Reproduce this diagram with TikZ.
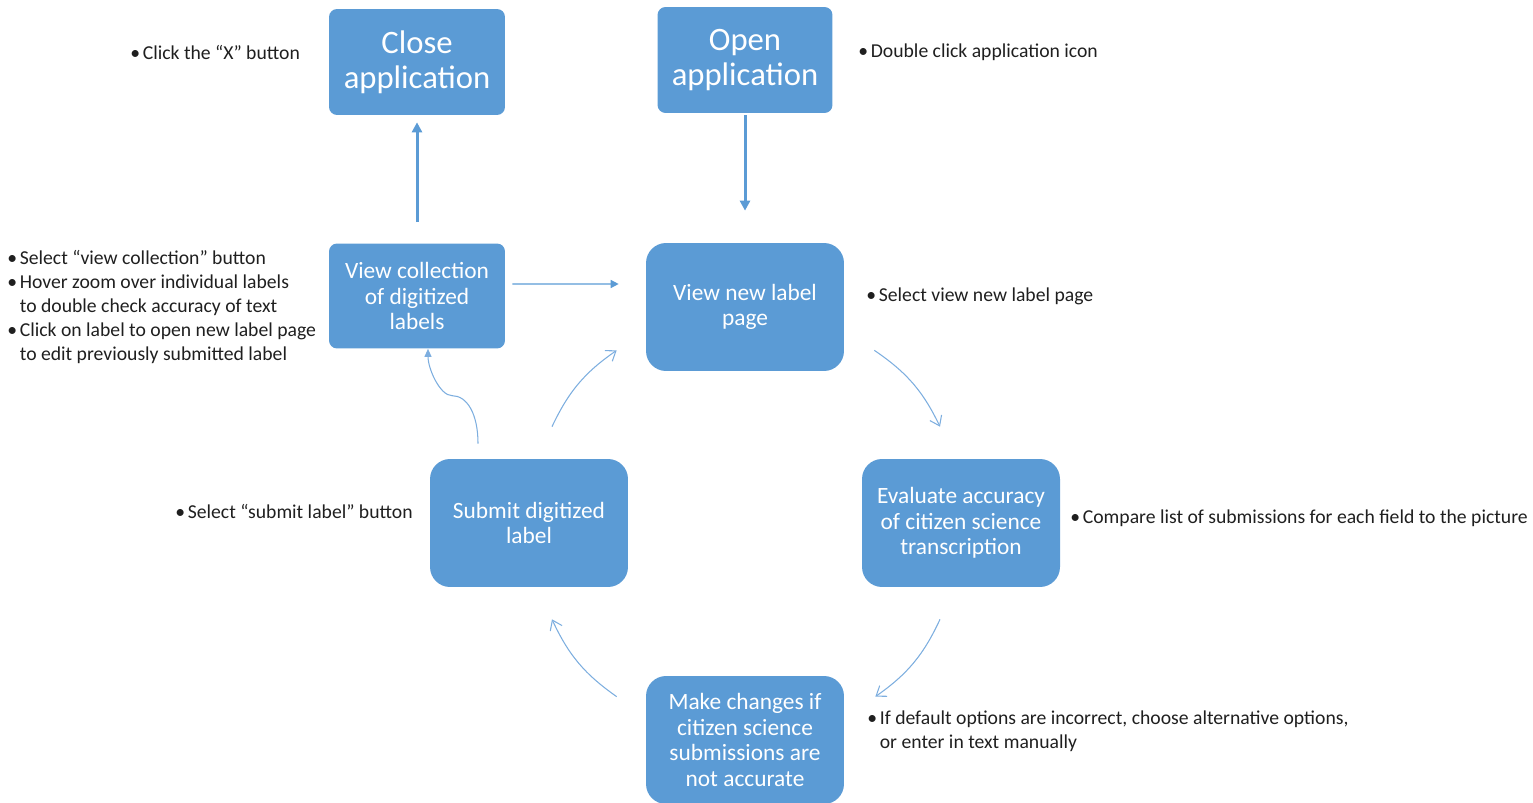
\documentclass[tikz,border=0pt]{standalone}
\usepackage{fontspec}
\setmainfont{Carlito}
\usetikzlibrary{arrows.meta}
\definecolor{boxblue}{HTML}{5B9BD5}
\definecolor{lineblue}{HTML}{7DAEDF}
\newcommand\bul{\makebox[0.25cm][l]{•}}
\newcommand\bulpad{\hspace*{0.25cm}}

\begin{document}
\begin{tikzpicture}[x=0.02cm, y=-0.02cm,
    stepbox/.style={fill=boxblue, text=white, rounded corners=0.16cm, align=center, inner sep=0pt,
      font=\fontsize{13.3}{14.6}\selectfont},
    topbox/.style={stepbox, minimum width=3.52cm, minimum height=2.12cm, font=\fontsize{18.6}{19.8}\selectfont},
    bigbox/.style={stepbox, minimum width=3.96cm, minimum height=2.56cm, rounded corners=0.4cm},
    note/.style={anchor=west, inner sep=0pt, align=left, text=black!88, font=\fontsize{11.2}{13.6}\selectfont},
    bigarrow/.style={boxblue, line width=1.7pt, -{Triangle[length=0.2cm, width=0.2cm]}},
    flowarrow/.style={lineblue, line width=0.6pt, -{Straight Barb[length=0.18cm, width=0.26cm]}, bend left=15}]
  \useasboundingbox (0,0) rectangle (1533,803);

  \node[topbox] (close) at (417,62) {Close\\application};
  \node[topbox, minimum width=3.5cm] (open) at (745,60) {Open\\application};
  \node[stepbox, minimum width=3.52cm, minimum height=2.1cm] (coll) at (417,296) {View collection\\of digitized\\labels};
  \node[bigbox] (new) at (745,307) {View new label\\page};
  \node[bigbox] (submit) at (529,523) {Submit digitized\\label};
  \node[bigbox] (eval) at (961,523) {Evaluate accuracy\\of citizen science\\transcription};
  \node[bigbox] (make) at (745,740) {Make changes if\\citizen science\\submissions are\\not accurate};

  \draw[bigarrow, shorten <=0.42cm, shorten >=0.14cm] (coll.north) -- (close.south);
  \draw[bigarrow, shorten <=0.04cm, shorten >=0.64cm] (open.south) -- (new.north);
  \draw[boxblue, line width=0.8pt, -{Triangle[length=0.16cm, width=0.16cm]}, shorten <=0.14cm, shorten >=0.54cm]
    ([yshift=0.24cm]coll.east) -- ([yshift=0.46cm]new.west);

  % the loop round the middle
  \draw[flowarrow] ([xshift=0.6cm, yshift=0.42cm]new.south east) to ([xshift=-0.42cm, yshift=0.64cm]eval.north);
  \draw[flowarrow] ([xshift=-0.42cm, yshift=-0.64cm]eval.south) to ([xshift=0.62cm, yshift=-0.42cm]make.north east);
  \draw[flowarrow] ([xshift=-0.58cm, yshift=-0.42cm]make.north west) to ([xshift=0.46cm, yshift=-0.64cm]submit.south);
  \draw[flowarrow] ([xshift=0.46cm, yshift=0.64cm]submit.north) to ([xshift=-0.58cm, yshift=0.42cm]new.south west);
  \draw[lineblue, line width=0.6pt, -{Triangle[length=0.16cm, width=0.14cm]}]
    ([xshift=-1.02cm, yshift=0.3cm]submit.north) .. controls +(0,-30) and +(15,0) .. ++(-26,-48)
    .. controls +(-12,0) and +(0,20) .. ([xshift=0.22cm]coll.south);

  \node[note] (closenote) at (130,52) {\bul Click the “X” button};
  \node[note] (opennote) at (858,52) {\bul Double click application icon};
  \node[note] (collnote) at (7,307) {\bul Select “view collection” button\\\bul Hover zoom over individual labels\\
    \bulpad to double check accuracy of text\\\bul Click on label to open new label page\\\bulpad to edit previously submitted label};
  \node[note] (newnote) at (866,296) {\bul Select view new label page};
  \node[note] (subnote) at (175,511) {\bul Select “submit label” button};
  \node[note] (evalnote) at (1070,518) {\bul Compare list of submissions for each field to the picture};
  \node[note] (makenote) at (867,731) {\bul If default options are incorrect, choose alternative options,\\
    \bulpad or enter in text manually};
\end{tikzpicture}
\end{document}
